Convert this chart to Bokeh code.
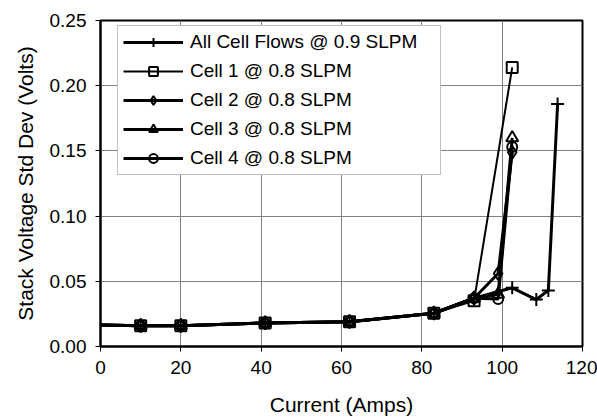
from bokeh.plotting import figure
from bokeh.models import Legend, LegendItem, FixedTicker, NumeralTickFormatter, Range1d
from bokeh.embed import file_html
from bokeh.resources import INLINE

# ---- data ----
all_x = [0, 10, 20, 41, 62, 83, 93, 102.5, 108.5, 111.5, 113.8]
all_y = [0.0165, 0.016, 0.016, 0.018, 0.019, 0.0255, 0.037, 0.045, 0.036, 0.043, 0.186]

cell1_x = [0, 10, 20, 41, 62, 83, 93, 102.5]
cell1_y = [0.0165, 0.016, 0.016, 0.018, 0.019, 0.0255, 0.035, 0.214]

cell2_x = [0, 10, 20, 41, 62, 83, 93, 99, 102.5]
cell2_y = [0.0165, 0.016, 0.016, 0.018, 0.019, 0.0255, 0.037, 0.056, 0.149]

cell3_x = [0, 10, 20, 41, 62, 83, 93, 99, 102.5]
cell3_y = [0.0165, 0.016, 0.016, 0.018, 0.019, 0.0255, 0.037, 0.040, 0.160]

cell4_x = [0, 10, 20, 41, 62, 83, 93, 99, 102.5]
cell4_y = [0.0165, 0.016, 0.016, 0.018, 0.019, 0.0255, 0.037, 0.0365, 0.153]

labels = ["All Cell Flows @ 0.9 SLPM", "Cell 1 @ 0.8 SLPM", "Cell 2 @ 0.8 SLPM",
          "Cell 3 @ 0.8 SLPM", "Cell 4 @ 0.8 SLPM"]
x_ticks = [0, 20, 40, 60, 80, 100, 120]
y_ticks = [0.0, 0.05, 0.10, 0.15, 0.20, 0.25]

FONT = "Liberation Sans"

p = figure(width=597, height=418, output_backend="svg", toolbar_location=None,
           x_range=Range1d(0, 120), y_range=Range1d(0, 0.25),
           min_border_left=100, min_border_right=15, min_border_top=20, min_border_bottom=71)
p.background_fill_color = "white"
p.border_fill_color = "white"
p.outline_line_color = "black"
p.outline_line_width = 2

for ax in (p.xaxis[0], p.yaxis[0]):
    ax.axis_line_color = "black"
    ax.axis_line_width = 2
    ax.major_tick_out = 5
    ax.major_tick_in = 0
    ax.major_tick_line_color = "black"
    ax.minor_tick_line_color = None
    ax.major_label_text_font = FONT
    ax.major_label_text_font_size = "19px"
    ax.major_label_text_color = "black"
    ax.axis_label_text_font = FONT
    ax.axis_label_text_font_size = "21px"
    ax.axis_label_text_font_style = "normal"
    ax.axis_label_text_color = "black"

p.xaxis.ticker = FixedTicker(ticks=x_ticks)
p.yaxis.ticker = FixedTicker(ticks=y_ticks)
p.yaxis.formatter = NumeralTickFormatter(format="0.00")
p.xaxis.axis_label = "Current (Amps)"
p.yaxis.axis_label = "Stack Voltage Std Dev (Volts)"
p.xaxis.major_label_standoff = 9
p.yaxis.major_label_standoff = 9
p.xaxis.axis_label_standoff = 16
p.yaxis.axis_label_standoff = 10

p.xgrid.grid_line_color = "#7f7f7f"
p.ygrid.grid_line_color = "#7f7f7f"
p.xgrid.grid_line_width = 1
p.ygrid.grid_line_width = 1

series = [
    (all_x, all_y, "cross", 3, 13),
    (cell1_x, cell1_y, "square", 2, 11),
    (cell2_x, cell2_y, "diamond", 3, 13),
    (cell3_x, cell3_y, "triangle", 3, 12),
    (cell4_x, cell4_y, "circle", 3, 10),
]

items = []
for (xs, ys, marker, lw, size), lab in zip(series, labels):
    r1 = p.line(xs, ys, line_color="black", line_width=lw)
    r2 = p.scatter(xs[1:], ys[1:], marker=marker, size=size, line_color="black",
                   line_width=2, fill_color=None)
    items.append(LegendItem(label=lab, renderers=[r1, r2]))

legend = Legend(items=items, location=(17, 171))
legend.label_text_font = FONT
legend.label_text_font_size = "19px"
legend.label_text_color = "black"
legend.border_line_color = "#808080"
legend.border_line_width = 1
legend.background_fill_color = "white"
legend.background_fill_alpha = 1
legend.padding = 5
legend.spacing = 7
legend.margin = 0
legend.glyph_width = 60
legend.glyph_height = 22
legend.label_height = 22
legend.label_width = 245
legend.label_standoff = 7
p.add_layout(legend, "center")

open("out.html", "w").write(file_html(p, INLINE))
